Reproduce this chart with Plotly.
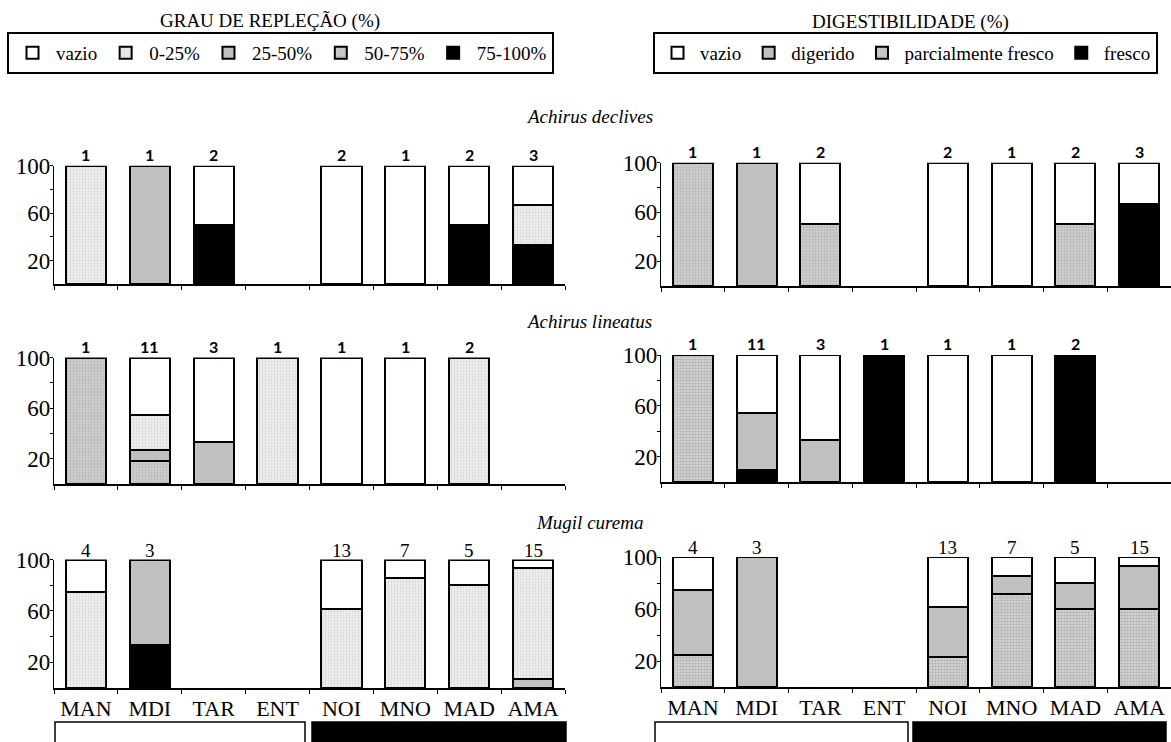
import plotly.graph_objects as go

# ---------------- data ----------------
categories = ["MAN", "MDI", "TAR", "ENT", "NOI", "MNO", "MAD", "AMA"]
species = ["Achirus declives", "Achirus lineatus", "Mugil curema"]

# number of stomachs analysed per site (0 = no sample)
n_declives = [1, 1, 2, 0, 2, 1, 2, 3]
n_lineatus = [1, 11, 3, 1, 1, 1, 2, 0]
n_curema = [4, 3, 0, 0, 13, 7, 5, 15]

# stomach fullness (grau de repleção), counts per class
rep_classes = ["vazio", "0-25%", "25-50%", "50-75%", "75-100%"]
rep_declives = {
    "vazio":   [0, 0, 1, 0, 2, 1, 1, 1],
    "0-25%":   [1, 0, 0, 0, 0, 0, 0, 1],
    "25-50%":  [0, 1, 0, 0, 0, 0, 0, 0],
    "50-75%":  [0, 0, 0, 0, 0, 0, 0, 0],
    "75-100%": [0, 0, 1, 0, 0, 0, 1, 1],
}
rep_lineatus = {
    "vazio":   [0, 5, 2, 0, 1, 1, 0, 0],
    "0-25%":   [0, 3, 0, 1, 0, 0, 2, 0],
    "25-50%":  [0, 1, 1, 0, 0, 0, 0, 0],
    "50-75%":  [1, 2, 0, 0, 0, 0, 0, 0],
    "75-100%": [0, 0, 0, 0, 0, 0, 0, 0],
}
rep_curema = {
    "vazio":   [1, 0, 0, 0, 5, 1, 1, 1],
    "0-25%":   [3, 0, 0, 0, 8, 6, 4, 13],
    "25-50%":  [0, 2, 0, 0, 0, 0, 0, 1],
    "50-75%":  [0, 0, 0, 0, 0, 0, 0, 0],
    "75-100%": [0, 1, 0, 0, 0, 0, 0, 0],
}

# digestibility, counts per class
dig_classes = ["vazio", "digerido", "parcialmente fresco", "fresco"]
dig_declives = {
    "vazio":               [0, 0, 1, 0, 2, 1, 1, 1],
    "digerido":            [0, 1, 0, 0, 0, 0, 0, 0],
    "parcialmente fresco": [1, 0, 1, 0, 0, 0, 1, 0],
    "fresco":              [0, 0, 0, 0, 0, 0, 0, 2],
}
dig_lineatus = {
    "vazio":               [0, 5, 2, 0, 1, 1, 0, 0],
    "digerido":            [0, 5, 1, 0, 0, 0, 0, 0],
    "parcialmente fresco": [1, 0, 0, 0, 0, 0, 0, 0],
    "fresco":              [0, 1, 0, 1, 0, 0, 2, 0],
}
dig_curema = {
    "vazio":               [1, 0, 0, 0, 5, 1, 1, 1],
    "digerido":            [2, 3, 0, 0, 5, 1, 1, 5],
    "parcialmente fresco": [1, 0, 0, 0, 3, 5, 3, 9],
    "fresco":              [0, 0, 0, 0, 0, 0, 0, 0],
}

n_rows = [n_declives, n_lineatus, n_curema]
rep_rows = [rep_declives, rep_lineatus, rep_curema]
dig_rows = [dig_declives, dig_lineatus, dig_curema]

# ---------------- styles ----------------
SERIF = "Liberation Serif, Times New Roman, serif"
SANS = "Lato, Noto Sans, sans-serif"


def solid(c):
    return dict(color=c)


def stipple(bg, fg, sol):
    return dict(color=bg, pattern=dict(shape=".", bgcolor=bg, fgcolor=fg, size=3, solidity=sol))


rep_style = {
    "vazio": solid("#ffffff"),
    "0-25%": stipple("#f0f0f0", "#b4b4b4", 0.35),
    "25-50%": solid("#c0c0c0"),
    "50-75%": stipple("#d2d2d2", "#8a8a8a", 0.4),
    "75-100%": solid("#000000"),
}
dig_style = {
    "vazio": solid("#ffffff"),
    "digerido": solid("#c0c0c0"),
    "parcialmente fresco": stipple("#d2d2d2", "#8a8a8a", 0.4),
    "fresco": solid("#000000"),
}

W, H = 1171, 742


def px_x(p):
    return p / W


def px_y(p):
    return 1 - p / H


# panel placement (pixels): x-span of each column, (top=100, bottom=0) of each row
col_x = [(54, 565), (661, 1171)]
row_y = [
    [(165.7, 284.3), (162.7, 286.0)],
    [(357.5, 484.3), (355.0, 482.0)],
    [(559.5, 688.0), (557.0, 687.0)],
]

fig = go.Figure()


def pct(counts, n):
    return [c / t * 100 if t and c else None for c, t in zip(counts, n)]


layout_axes = {}
annotations = []
for r in range(3):
    for c in range(2):
        idx = r * 2 + c + 1
        xa = "x" if idx == 1 else f"x{idx}"
        ya = "y" if idx == 1 else f"y{idx}"
        classes = rep_classes if c == 0 else dig_classes
        table = rep_rows[r] if c == 0 else dig_rows[r]
        styles = rep_style if c == 0 else dig_style
        n = n_rows[r]
        # stacked from the bottom: last class first
        for cls in reversed(classes):
            fig.add_trace(go.Bar(
                x=categories, y=pct(table[cls], n), name=cls,
                xaxis=xa, yaxis=ya,
                marker=dict(**styles[cls], line=dict(color="black", width=2)),
                width=0.63,
                legend="legend" if c == 0 else "legend2",
                legendgroup=f"{c}-{cls}",
                showlegend=(r == 0),
            ))
        # sample sizes above bars
        for cat, t in zip(categories, n):
            if t:
                annotations.append(dict(
                    x=cat, y=100, xref=xa, yref=ya, text=str(t), showarrow=False,
                    xanchor="center", yanchor="bottom", yshift=0 if r < 2 else -3,
                    font=dict(family=SANS if r < 2 else SERIF, size=16 if r < 2 else 19,
                              color="black", weight="bold" if r < 2 else "normal"),
                ))
        x0, x1 = col_x[c]
        ytop, ybot = row_y[r][c]
        layout_axes["xaxis" if idx == 1 else f"xaxis{idx}"] = dict(
            domain=[px_x(x0), px_x(x1)], anchor=ya, type="category",
            categoryorder="array", categoryarray=categories, range=[-0.5, 7.5],
            showline=True, linecolor="black", linewidth=1.5,
            ticks="outside", ticklen=4, tickcolor="black", tickson="boundaries",
            showticklabels=(r == 2), showgrid=False, zeroline=False,
            tickfont=dict(family=SERIF, size=22, color="black"),
        )
        layout_axes["yaxis" if idx == 1 else f"yaxis{idx}"] = dict(
            domain=[px_y(ybot), px_y(ytop)], anchor=xa, range=[0, 100],
            showline=True, linecolor="black", linewidth=1.2,
            tickvals=[20, 40, 60, 80, 100], ticktext=["20", "", "60", "", "100"],
            ticks="outside", ticklen=3, tickcolor="black", ticklabelstandoff=-5,
            showgrid=False, zeroline=False,
            tickfont=dict(family=SERIF, size=23, color="black"),
        )

# panel headings
for text, xp, yp in [("GRAU DE REPLEÇÃO (%)", 270, 21), ("DIGESTIBILIDADE (%)", 911, 22)]:
    annotations.append(dict(x=px_x(xp), y=px_y(yp), xref="paper", yref="paper",
                            text=text, showarrow=False, xanchor="center", yanchor="middle",
                            font=dict(family=SERIF, size=19, color="black")))
for name, yp in zip(species, [116, 321, 522]):
    annotations.append(dict(x=px_x(589), y=px_y(yp), xref="paper", yref="paper",
                            text=f"<i>{name}</i>", showarrow=False,
                            xanchor="center", yanchor="middle",
                            font=dict(family=SERIF, size=19, color="black")))

# day / night bars below the site labels
shapes = []
for (wx0, wx1, bx0, bx1) in [(55, 305, 312, 566), (655, 908, 913, 1166)]:
    shapes.append(dict(type="rect", xref="paper", yref="paper",
                       x0=px_x(wx0), x1=px_x(wx1), y0=-0.05, y1=px_y(722),
                       line=dict(color="black", width=1.5), fillcolor="white"))
    shapes.append(dict(type="rect", xref="paper", yref="paper",
                       x0=px_x(bx0), x1=px_x(bx1), y0=-0.05, y1=px_y(722),
                       line=dict(color="black", width=1.5), fillcolor="black"))

legend_common = dict(orientation="h", xanchor="left", yanchor="top",
                     bordercolor="black", borderwidth=2, bgcolor="white",
                     traceorder="reversed", itemclick=False, itemdoubleclick=False,
                     font=dict(family=SERIF, size=19, color="black"))

fig.update_layout(
    width=W, height=H, margin=dict(l=0, r=0, t=0, b=0, autoexpand=False),
    paper_bgcolor="white", plot_bgcolor="white",
    barmode="stack", bargap=0.37,
    annotations=annotations, shapes=shapes,
    legend=dict(x=px_x(7), y=px_y(32), itemwidth=37, **legend_common),
    legend2=dict(x=px_x(653), y=px_y(32), itemwidth=35, **legend_common),
    **layout_axes,
)

fig.write_html("out.html")
